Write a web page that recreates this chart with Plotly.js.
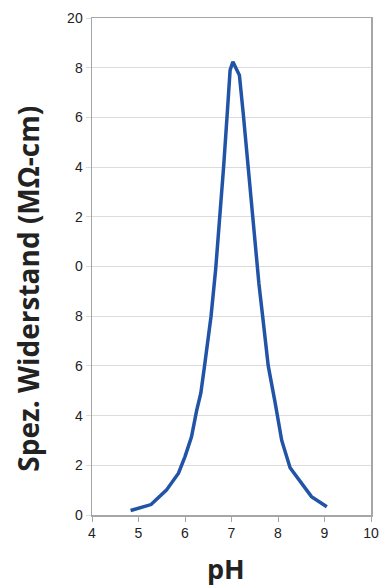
<!DOCTYPE html>
<html>
<head>
<meta charset="utf-8">
<script src="https://cdn.plot.ly/plotly-3.0.1.min.js"></script>
<style>html,body{margin:0;padding:0;background:#fff;}#chart{width:379px;height:588px;}</style>
</head>
<body>
<div id="chart"></div>
<script>
// pH values and specific resistance (MΩ-cm)
var ph = [4.83, 5.27, 5.6, 5.86, 6.0, 6.14, 6.25, 6.34, 6.42, 6.56, 6.66, 6.75, 6.83, 6.91, 6.97, 7.03, 7.08, 7.17, 7.25, 7.33, 7.46, 7.55, 7.59, 7.67, 7.79, 7.94, 8.08, 8.26, 8.72, 9.05];
var resistance = [0.18, 0.42, 1.0, 1.68, 2.35, 3.15, 4.2, 4.9, 6.0, 8.0, 9.9, 12.0, 14.0, 16.2, 17.9, 18.24, 18.05, 17.7, 16.2, 14.6, 12.0, 10.0, 9.3, 8.0, 6.0, 4.5, 3.0, 1.9, 0.74, 0.33];
var xTickVals = [4, 5, 6, 7, 8, 9, 10];
var yTickVals = [0, 2, 4, 6, 8, 10, 12, 14, 16, 18, 20];
var yTickText = ["0", "2", "4", "6", "8", "0", "2", "4", "6", "8", "20"];
var xTitle = "pH";
var yTitle = "Spez. Widerstand (MΩ-cm)";

var trace = {
  x: ph, y: resistance, type: "scatter", mode: "lines",
  line: {color: "rgb(33,84,166)", width: 3.5},
  hoverinfo: "skip"
};
var layout = {
  width: 379, height: 588,
  margin: {l: 92, r: 8, t: 18, b: 73},
  paper_bgcolor: "#fff", plot_bgcolor: "#fff",
  showlegend: false,
  font: {family: "Liberation Sans, Arial, sans-serif", size: 14, color: "#222"},
  xaxis: {
    range: [4, 10], tickvals: xTickVals, showgrid: false, zeroline: false,
    showline: true, linecolor: "#a6a6a6", linewidth: 1.5, mirror: true,
    ticks: "outside", ticklen: 5, tickcolor: "#a6a6a6", tickwidth: 1,
    tickfont: {size: 14, color: "#222"}
  },
  yaxis: {
    range: [0, 20], tickvals: yTickVals, ticktext: yTickText,
    showgrid: true, gridcolor: "#dcdcdc", gridwidth: 1, zeroline: false,
    showline: true, linecolor: "#a6a6a6", linewidth: 1.5, mirror: true,
    ticks: "outside", ticklen: 5, tickcolor: "#dcdcdc", tickwidth: 1,
    tickfont: {size: 14, color: "#222"}
  },
  annotations: [
    {text: "<b>" + xTitle + "</b>", xref: "paper", yref: "paper", x: 0.48, y: -0.107,
     xanchor: "center", yanchor: "middle", showarrow: false,
     font: {family: "Open Sans, Noto Sans, sans-serif", size: 27, color: "#222"}},
    {text: "<b>" + yTitle + "</b>", xref: "paper", yref: "paper", x: -0.23, y: 0.455,
     xanchor: "center", yanchor: "middle", textangle: -90, showarrow: false,
     font: {family: "Open Sans, Noto Sans, sans-serif", size: 28, color: "#222"}}
  ]
};
Plotly.newPlot("chart", [trace], layout, {staticPlot: true, displayModeBar: false});
</script>
</body>
</html>
